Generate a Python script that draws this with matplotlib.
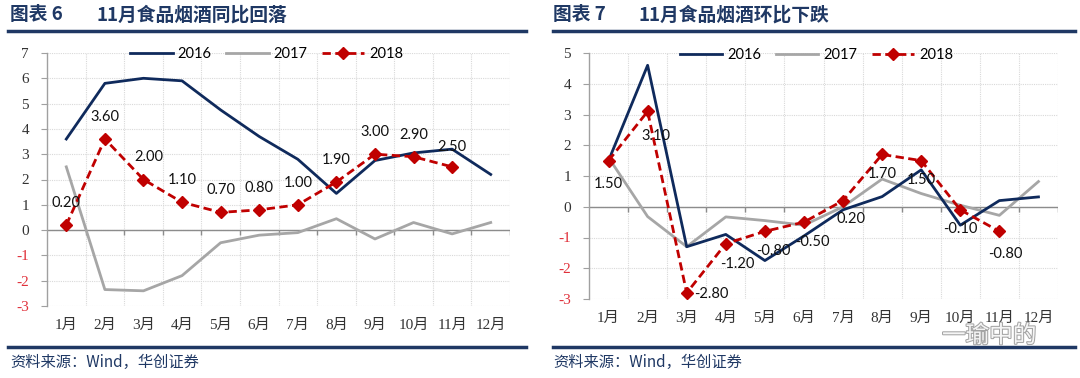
import matplotlib
matplotlib.use("Agg")
import matplotlib.pyplot as plt
import matplotlib.patheffects as pe
import numpy as np

plt.rcParams['font.family'] = ['Liberation Serif', 'Noto Sans CJK SC', 'DejaVu Sans']

months = ['1月', '2月', '3月', '4月', '5月', '6月', '7月', '8月', '9月', '10月', '11月', '12月']
years = ['2016', '2017', '2018']

# Left: 同比
yoy_2016 = [3.6, 5.8, 6.0, 5.9, 4.75, 3.7, 2.8, 1.45, 2.75, 3.05, 3.2, 2.2]
yoy_2017 = [2.5, -2.35, -2.4, -1.8, -0.5, -0.2, -0.1, 0.45, -0.35, 0.3, -0.15, 0.3]
yoy_2018 = [0.2, 3.6, 2.0, 1.1, 0.7, 0.8, 1.0, 1.9, 3.0, 2.9, 2.5]

# Right: 环比
mom_2016 = [1.5, 4.6, -1.3, -0.9, -1.75, -0.95, -0.1, 0.33, 1.2, -0.6, 0.2, 0.32]
mom_2017 = [1.6, -0.32, -1.3, -0.33, -0.45, -0.6, 0.0, 0.9, 0.43, 0.05, -0.28, 0.82]
mom_2018 = [1.5, 3.1, -2.8, -1.2, -0.8, -0.5, 0.2, 1.7, 1.5, -0.1, -0.8]

title_nums = ['图表 6', '图表 7']
titles = ['11月食品烟酒同比回落', '11月食品烟酒环比下跌']
source = '资料来源：Wind，华创证券'

NAVY = '#1F3864'
LINE16 = '#0F2A5C'
GREY = '#A6A6A6'
RED = '#C00000'

W, H = 1080, 378
fig = plt.figure(figsize=(W / 100, H / 100), dpi=100)


def px_axes(x0, x1, ytop, ybot):
    return fig.add_axes([x0 / W, 1 - ybot / H, (x1 - x0) / W, (ybot - ytop) / H])


def draw(ax, s16, s17, s18, ylim, label_offsets, legend_x):
    n = len(months)
    x = np.arange(n)
    ax.set_xlim(-0.5, n - 0.5)
    ax.set_ylim(*ylim)
    for sp in ['top', 'right', 'bottom']:
        ax.spines[sp].set_visible(False)
    ax.spines['left'].set_color('#A0A0A0')
    ax.spines['left'].set_linewidth(1.0)
    # grid
    for yy in range(ylim[0], ylim[1] + 1):
        ax.axhline(yy, color='#D9D9D9', lw=0.8, ls=(0, (1, 1)), zorder=0)
    for xb in np.arange(-0.5, n, 1.0)[1:]:
        ax.axvline(xb, color='#D9D9D9', lw=0.8, ls=(0, (1, 1)), zorder=0)
    ax.axhline(0, color='#8C8C8C', lw=1.0, zorder=1)
    tick_len = (ylim[1] - ylim[0]) * 0.02
    ax.vlines(np.arange(-0.5, n, 1.0)[1:], 0, -tick_len, color='#8C8C8C', lw=1.0, zorder=1)

    l1, = ax.plot(x, s16, color=LINE16, lw=2.0, zorder=3, label=years[0])
    l2, = ax.plot(x, s17, color=GREY, lw=2.0, zorder=2, label=years[1])
    x18 = np.arange(len(s18))
    l3, = ax.plot(x18, s18, color=RED, lw=2.0, ls=(0, (3, 1.6)), marker='D', ms=6,
                  mfc=RED, mec=RED, zorder=4, label=years[2])
    for xi, v, (dx, dy) in zip(x18, s18, label_offsets):
        ax.annotate(f'{v:.2f}', (xi, v), xytext=(dx, dy), textcoords='offset points',
                    ha='center', va='center', fontsize=10.5, family=['Lato', 'DejaVu Sans'],
                    color='#111111', zorder=5)

    ax.set_yticks(range(ylim[0], ylim[1] + 1))
    ax.set_yticklabels([str(v) for v in range(ylim[0], ylim[1] + 1)], fontsize=11)
    for t, v in zip(ax.get_yticklabels(), range(ylim[0], ylim[1] + 1)):
        t.set_color('#E0303A' if v < 0 else '#333333')
    ax.tick_params(axis='y', length=4, color='#A0A0A0', pad=9)
    ax.set_xticks(x)
    ax.set_xticklabels(months, fontsize=11, color='#333333')
    ax.tick_params(axis='x', length=0, pad=9)
    ax.legend(handles=[l1, l2, l3], ncol=3, loc='upper center',
              bbox_to_anchor=(legend_x, 1.075), frameon=False,
              prop={'family': ['Lato', 'DejaVu Sans'], 'size': 10.5},
              handlelength=2.9, columnspacing=1.0, handletextpad=0.35)
    ax.set_facecolor('none')


ax1 = px_axes(47, 510, 53, 306)
off1 = [(0, 16), (0, 16), (4, 16), (0, 16), (0, 16), (0, 16), (0, 16),
        (0, 16), (0, 16), (0, 16), (0, 14)]
draw(ax1, yoy_2016, yoy_2017, yoy_2018, (-3, 7), off1, 0.475)

ax2 = px_axes(589, 1058, 53, 299)
off2 = [(0, -17), (6, -18), (18, -1), (8, -15), (6, -14), (6, -14), (6, -13),
        (0, -14), (0, -14), (0, -14), (4, -16)]
draw(ax2, mom_2016, mom_2017, mom_2018, (-3, 5), off2, 0.485)

# Titles, rules, sources
for (tx, lx0, lx1), num, title in zip([(10, 8, 526), (553, 553, 1075)], title_nums, titles):
    fig.text(tx / W, 1 - 15 / H, num, fontsize=13.5, fontweight='bold', color=NAVY,
             family=['Noto Sans CJK SC', 'DejaVu Sans'], va='center', ha='left')
    fig.text((tx + 86) / W, 1 - 15 / H, title, fontsize=13.5, fontweight='bold', color=NAVY,
             family=['Noto Sans CJK SC', 'DejaVu Sans'], va='center', ha='left')
    fig.add_artist(plt.Line2D([lx0 / W, lx1 / W], [1 - 31 / H, 1 - 31 / H], color=NAVY, lw=2.5))
    fig.add_artist(plt.Line2D([lx0 / W, lx1 / W], [1 - 347 / H, 1 - 347 / H], color=NAVY, lw=2.5))
    fig.text(tx / W, 1 - 362 / H, source, fontsize=11, color=NAVY, style='italic',
             family=['Noto Sans CJK SC', 'DejaVu Sans'], va='center', ha='left')

# watermark
fig.text(942 / W, 1 - 336 / H, '一瑜中的', fontsize=17, color='white',
         family=['Noto Sans CJK SC', 'DejaVu Sans'], va='center', ha='left', alpha=0.9,
         path_effects=[pe.withStroke(linewidth=1.5, foreground='#9A9A9A')], zorder=10)

fig.savefig('out.png', dpi=100)
